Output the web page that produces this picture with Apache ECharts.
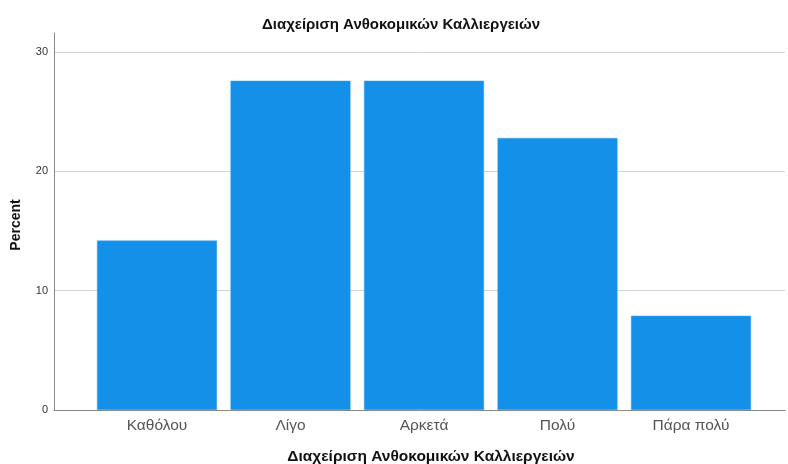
<!DOCTYPE html>
<html><head><meta charset="utf-8">
<script src="https://cdn.jsdelivr.net/npm/echarts@6/dist/echarts.min.js"></script>
<style>html,body{margin:0;padding:0;background:#fff}#c{width:788px;height:464px}</style>
</head><body><div id="c"></div>
<script>
var categories = ['Καθόλου', 'Λίγο', 'Αρκετά', 'Πολύ', 'Πάρα πολύ'];
var percent = [14.2, 27.6, 27.6, 22.8, 7.9];
var yTicks = [0, 10, 20, 30];
var titleText = 'Διαχείριση Ανθοκομικών Καλλιεργειών';
var yName = 'Percent';

var chart = echarts.init(document.getElementById('c'));
var font = '"Liberation Sans", Arial, sans-serif';
chart.setOption({
  animation: false,
  title: [
    {text: titleText, left: 396, top: 12, textAlign: 'center',
     textStyle: {fontFamily: font, fontSize: 15, fontWeight: 'bold', color: '#111'}},
    {text: titleText, left: 426, top: 444, textAlign: 'center',
     textStyle: {fontFamily: font, fontSize: 15.5, fontWeight: 'bold', color: '#111'}}
  ],
  graphic: [{
    type: 'text', x: 16.5, y: 225, rotation: Math.PI / 2,
    style: {text: yName, align: 'center', verticalAlign: 'middle',
            font: 'bold 14px ' + font, fill: '#111'}
  }],
  grid: {left: 54, right: 3, top: 33, bottom: 54, outerBoundsMode: 'none', containLabel: false},
  xAxis: {
    type: 'value', min: -0.7715, max: 4.704,
    axisLine: {show: true, onZero: false, lineStyle: {color: '#888', width: 1}},
    axisTick: {show: false},
    splitLine: {show: false},
    axisLabel: {
      customValues: [0, 1, 2, 3, 4],
      formatter: function (v) { return categories[Math.round(v)]; },
      fontFamily: font, fontSize: 15.5, color: '#555', margin: 8
    }
  },
  yAxis: {
    type: 'value', min: 0, max: 31.6, interval: 10,
    axisLine: {show: true, onZero: false, lineStyle: {color: '#888', width: 1}},
    axisTick: {show: false},
    splitLine: {show: true, showMinLine: false, showMaxLine: false, lineStyle: {color: '#d4d4d4', width: 1}},
    axisLabel: {
      customValues: yTicks,
      fontFamily: font, fontSize: 11, color: '#333', margin: 6
    }
  },
  series: [{
    type: 'bar',
    barWidth: 120,
    data: percent.map(function (v, i) { return [i, v]; }),
    itemStyle: {color: '#1490e8', borderColor: '#3aa2ec', borderWidth: 0.5}
  }]
});
</script></body></html>
